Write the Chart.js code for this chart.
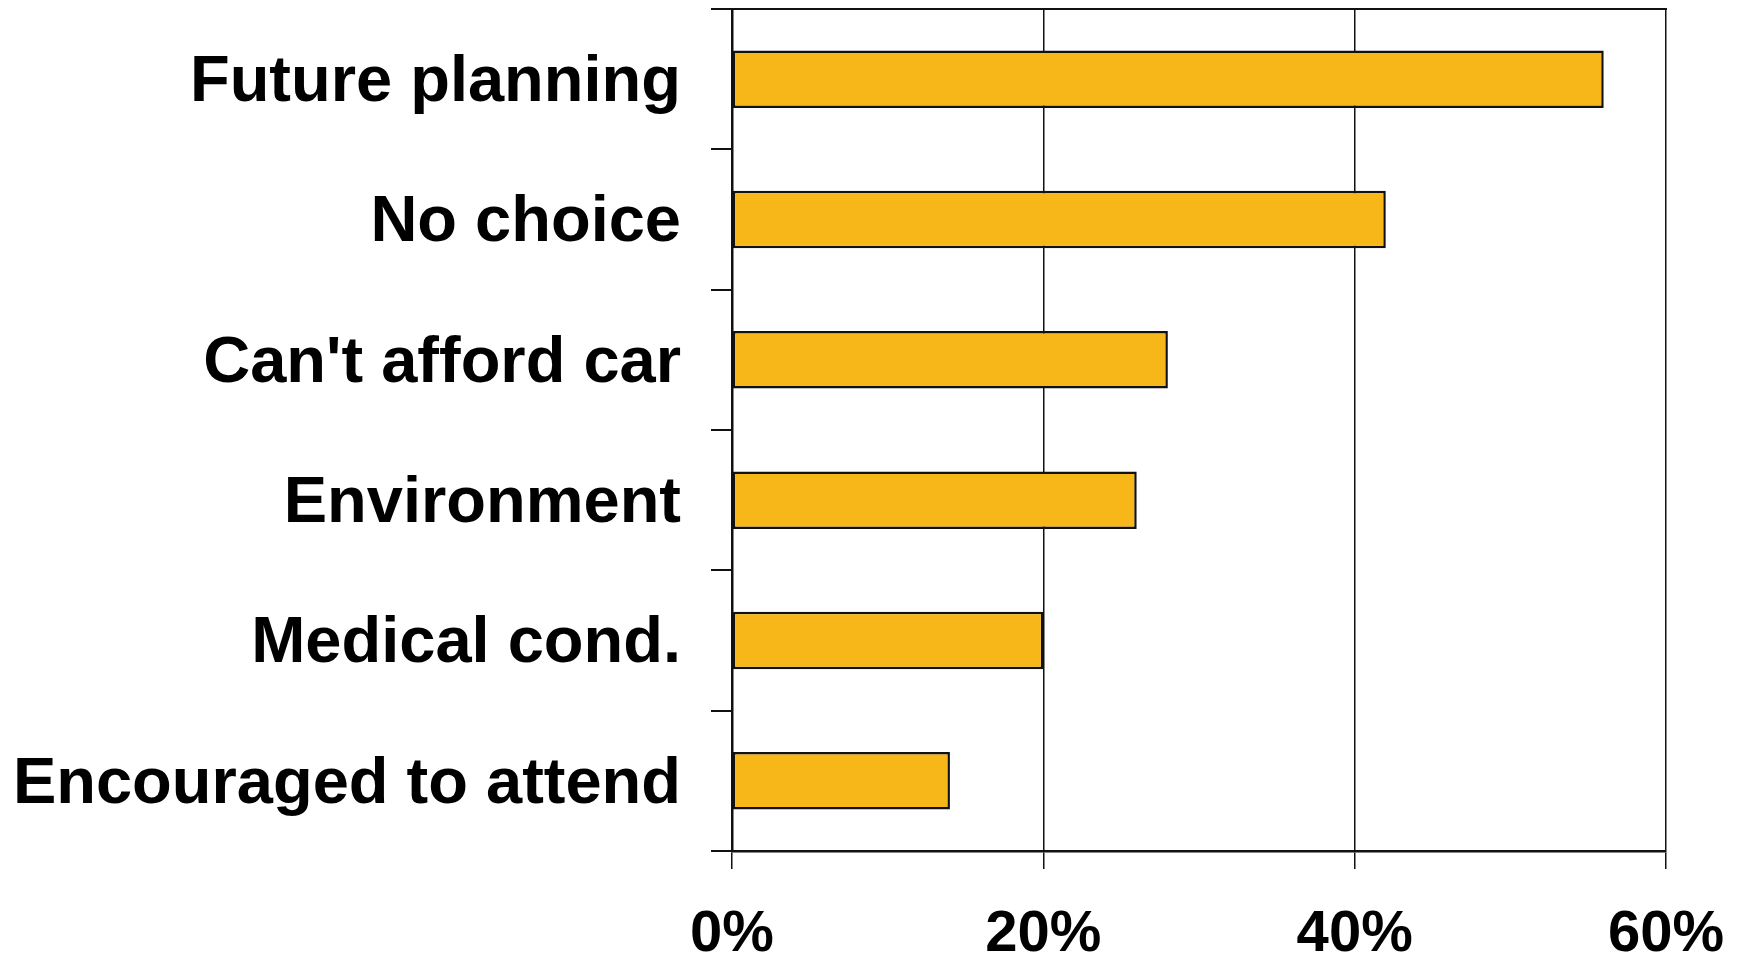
<!DOCTYPE html>
<html>
<head>
<meta charset="utf-8">
<script src="https://cdn.jsdelivr.net/npm/chart.js@4"></script>
<style>
  html, body { margin: 0; padding: 0; background: #fff; }
  #caja { width: 1742px; height: 959px; }
</style>
</head>
<body>
<div id="caja"><canvas id="grafica"></canvas></div>
<script>
// datos
const categorias = [
  "Future planning",
  "No choice",
  "Can't afford car",
  "Environment",
  "Medical cond.",
  "Encouraged to attend"
];
const valores = [56, 42, 28, 26, 20, 14];
const ticksX = [0, 20, 40, 60];

const colorBarra = '#F7B718';
const fuente = '"Liberation Sans", Arial, sans-serif';

const data = {
  labels: categorias,
  datasets: [{
    data: valores,
    backgroundColor: colorBarra,
    borderColor: '#111',
    borderWidth: 2.5,
    borderSkipped: false,
    categoryPercentage: 1,
    barPercentage: 0.41
  }]
};

const config = {
  type: 'bar',
  data: data,
  options: {
    indexAxis: 'y',
    responsive: true,
    maintainAspectRatio: false,
    animation: false,
    layout: { padding: { top: 9, right: 76, left: 0, bottom: 0 } },
    plugins: {
      legend: { display: false },
      tooltip: { enabled: false }
    },
    scales: {
      x: {
        type: 'linear',
        position: 'bottom',
        min: ticksX[0],
        max: ticksX[ticksX.length - 1],
        afterBuildTicks: (axis) => {
          axis.ticks = ticksX.map(v => ({ value: v }));
        },
        afterFit: (axis) => {
          axis.height = 108;
          axis.paddingLeft = 0;
          axis.paddingRight = 0;
        },
        grid: {
          color: '#111',
          lineWidth: 1.5,
          tickLength: 18,
          drawOnChartArea: true
        },
        border: { display: true, color: '#111', width: 2.5 },
        ticks: {
          color: '#000',
          padding: 31,
          maxRotation: 0,
          font: { family: fuente, size: 58, weight: 'bold' },
          callback: (v) => v + '%'
        }
      },
      x2: {
        type: 'linear',
        position: 'top',
        min: ticksX[0],
        max: ticksX[ticksX.length - 1],
        afterFit: (axis) => {
          axis.height = 0;
          axis.paddingLeft = 0;
          axis.paddingRight = 0;
        },
        grid: { display: false, drawTicks: false },
        ticks: { display: false },
        border: { display: true, color: '#111', width: 2 }
      },
      y: {
        afterFit: (axis) => {
          axis.width = 732;
          axis.paddingTop = 0;
          axis.paddingBottom = 0;
        },
        grid: {
          color: '#111',
          lineWidth: 2,
          tickLength: 21,
          drawOnChartArea: false
        },
        border: { display: true, color: '#111', width: 2.5 },
        ticks: {
          color: '#000',
          padding: 30,
          labelOffset: 4,
          font: { family: fuente, size: 65, weight: 'bold' }
        }
      }
    }
  }
};

const miGrafica = new Chart(document.getElementById('grafica'), config);
</script>
</body>
</html>
